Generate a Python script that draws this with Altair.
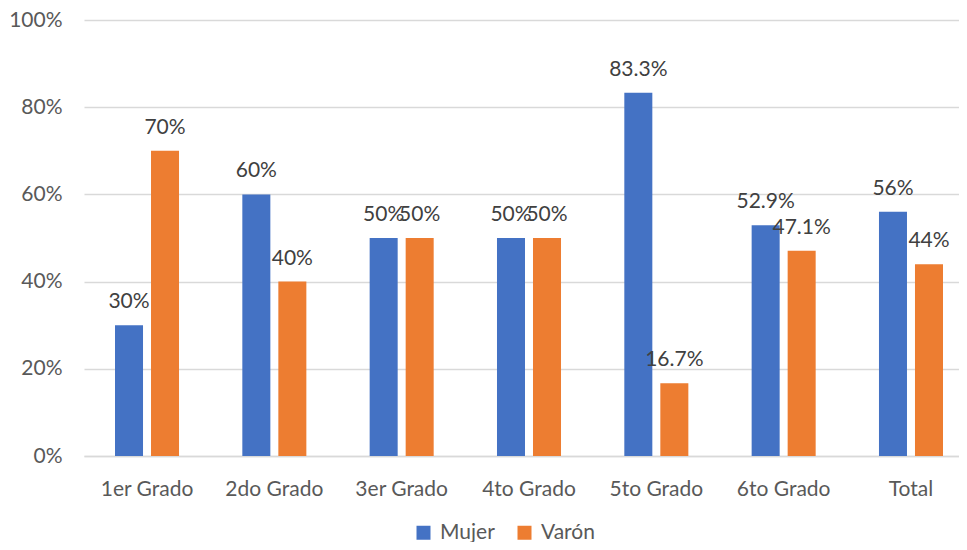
import altair as alt
import pandas as pd

grados = ["1er Grado", "2do Grado", "3er Grado", "4to Grado", "5to Grado", "6to Grado", "Total"]
series = ["Mujer", "Varón"]
mujer = [0.30, 0.60, 0.50, 0.50, 0.833, 0.529, 0.56]
varon = [0.70, 0.40, 0.50, 0.50, 0.167, 0.471, 0.44]
colors = ["#4472C4", "#ED7D31"]

rows = []
for g, m, v in zip(grados, mujer, varon):
    rows.append({"Grado": g, "Sexo": "Mujer", "Valor": m})
    rows.append({"Grado": g, "Sexo": "Varón", "Valor": v})
df = pd.DataFrame(rows)

FONT = "Lato"

x = alt.X("Grado:N", sort=grados, title=None,
          scale=alt.Scale(domain=grados, paddingInner=0.4344, paddingOuter=0.2121, range=[0, 890]),
          axis=alt.Axis(labelAngle=0, labelFont=FONT, labelFontSize=21, labelColor="#595959",
                        labelBaseline="alphabetic", labelPadding=39, ticks=False,
                        domainColor="#d9d9d9", domainWidth=1.3, grid=False))
xo = alt.XOffset("Sexo:N", sort=series,
                 scale=alt.Scale(domain=series, paddingInner=0.222, paddingOuter=0.111))
y = alt.Y("Valor:Q", title=None,
          scale=alt.Scale(domain=[0, 1]),
          axis=alt.Axis(format=".0%", values=[0, 0.2, 0.4, 0.6, 0.8, 1.0], labelFont=FONT,
                        labelFontSize=21, labelColor="#595959", labelPadding=22,
                        ticks=False, domain=False, gridColor="#d9d9d9", gridWidth=1.3))

bars = alt.Chart(df).mark_bar().encode(
    x=x, xOffset=xo, y=y,
    color=alt.Color("Sexo:N", sort=series,
                    scale=alt.Scale(domain=series, range=colors),
                    legend=alt.Legend(title=None, orient="none", direction="horizontal",
                                      legendX=329, legendY=502, symbolType="square",
                                      symbolSize=196, symbolStrokeWidth=0,
                                      labelFont=FONT, labelFontSize=21, labelColor="#595959",
                                      labelOffset=6, columnPadding=19, padding=0)),
)

labels = alt.Chart(df).mark_text(dy=-17, baseline="alphabetic", font=FONT, fontSize=21,
                                 color="#404040").encode(
    x=x, xOffset=xo, y=y,
    text=alt.Text("Valor:Q", format=".1~%"),
)

chart = alt.layer(bars, labels).properties(
    width=875, height=436,
    autosize=alt.AutoSizeParams(type="none"),
    padding={"left": 76, "top": 12, "right": 0, "bottom": 86},
).configure_view(stroke=None)

chart.save("out.html", embed_options={"renderer": "svg", "actions": False})
